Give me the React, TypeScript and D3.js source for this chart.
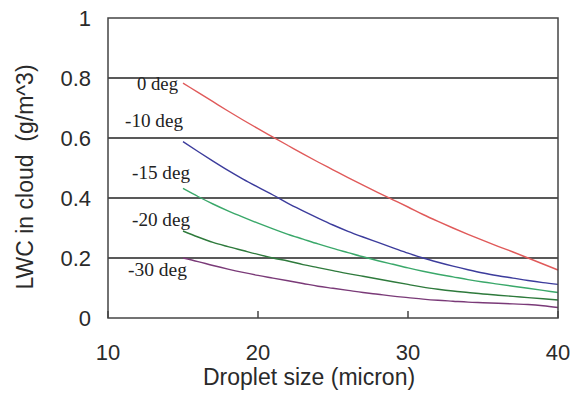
import React from "react";
import * as d3 from "d3";

// droplet size (micron)
const sizes = [15, 16, 17, 18, 19, 20, 21, 22, 23, 24, 25, 26, 27, 28, 29, 30, 31, 32, 33, 34, 35, 36, 37, 38, 39, 40];

// LWC (g/m^3) per temperature
const lwc0 = [0.783, 0.752, 0.721, 0.69, 0.66, 0.631, 0.603, 0.575, 0.547, 0.52, 0.494, 0.468, 0.443, 0.418, 0.394, 0.37, 0.345, 0.322, 0.3, 0.279, 0.259, 0.239, 0.22, 0.2, 0.18, 0.16];
const lwc10 = [0.588, 0.555, 0.523, 0.492, 0.463, 0.436, 0.41, 0.382, 0.357, 0.333, 0.31, 0.289, 0.27, 0.252, 0.234, 0.216, 0.2, 0.186, 0.173, 0.161, 0.15, 0.141, 0.133, 0.125, 0.118, 0.112];
const lwc15 = [0.432, 0.405, 0.38, 0.357, 0.336, 0.316, 0.297, 0.279, 0.263, 0.247, 0.232, 0.218, 0.204, 0.191, 0.179, 0.167, 0.156, 0.146, 0.137, 0.128, 0.12, 0.113, 0.106, 0.099, 0.092, 0.085];
const lwc20 = [0.29, 0.27, 0.252, 0.238, 0.225, 0.212, 0.2, 0.19, 0.178, 0.168, 0.158, 0.148, 0.139, 0.13, 0.121, 0.112, 0.103, 0.096, 0.09, 0.085, 0.08, 0.076, 0.072, 0.068, 0.064, 0.06];
const lwc30 = [0.2, 0.188, 0.175, 0.163, 0.152, 0.142, 0.133, 0.124, 0.115, 0.106, 0.099, 0.092, 0.085, 0.079, 0.073, 0.068, 0.063, 0.059, 0.056, 0.053, 0.051, 0.049, 0.047, 0.045, 0.041, 0.035];

const seriesNames = ["0 deg", "-10 deg", "-15 deg", "-20 deg", "-30 deg"];
const seriesValues = [lwc0, lwc10, lwc15, lwc20, lwc30];

const xTicks = [10, 20, 30, 40];
const yTicks = [0, 0.2, 0.4, 0.6, 0.8, 1];

const colors = ["#e05a5a", "#3c3c9c", "#3aa86a", "#2e7a3c", "#7a3a78"];
// where each curve label sits (px): x, baseline, width
const labelPos = [
  [137, 90, 41],
  [125, 126.5, 58],
  [132, 179, 58],
  [132, 226, 58],
  [128, 276, 59],
];

const W = 571;
const H = 396;
const plot = { left: 108, right: 558, top: 18, bottom: 318 };

const App: React.FC = () => {
  const x = d3.scaleLinear().domain([10, 40]).range([plot.left, plot.right]);
  const y = d3.scaleLinear().domain([0, 1]).range([plot.bottom, plot.top]);

  const line = d3
    .line<[number, number]>()
    .x((d) => x(d[0]))
    .y((d) => y(d[1]))
    .curve(d3.curveMonotoneX);

  const sans = "'Liberation Sans', Arial, sans-serif";
  const serif = "'Liberation Serif', 'Times New Roman', serif";

  return (
    <svg
      width={W}
      height={H}
      style={{ position: "absolute", left: 0, top: 0, background: "#fff" }}
    >
      <rect x={0} y={0} width={W} height={H} fill="#fff" />

      {/* gridlines */}
      {yTicks
        .filter((t) => t > 0 && t < 1)
        .map((t) => (
          <line
            key={t}
            x1={plot.left}
            x2={plot.right}
            y1={y(t)}
            y2={y(t)}
            stroke="#222"
            strokeWidth={1.5}
          />
        ))}

      {/* curves */}
      {seriesValues.map((vals, i) => (
        <path
          key={i}
          d={line(sizes.map((s, j) => [s, vals[j]] as [number, number])) || ""}
          fill="none"
          stroke={colors[i]}
          strokeWidth={1.4}
        />
      ))}

      {/* frame */}
      <rect
        x={plot.left}
        y={plot.top}
        width={plot.right - plot.left}
        height={plot.bottom - plot.top}
        fill="none"
        stroke="#444"
        strokeWidth={1.5}
      />

      {/* x ticks */}
      {xTicks.map((t) => (
        <g key={t}>
          <line
            x1={x(t)}
            x2={x(t)}
            y1={plot.bottom}
            y2={plot.bottom - 7}
            stroke="#444"
            strokeWidth={1.5}
          />
          <text
            x={x(t)}
            y={360}
            textAnchor="middle"
            fontFamily={sans}
            fontSize={22}
            fill="#2a2a2a"
          >
            {t}
          </text>
        </g>
      ))}

      {/* y tick labels */}
      {yTicks.map((t) => (
        <text
          key={t}
          x={91}
          y={y(t) + 8}
          textAnchor="end"
          fontFamily={sans}
          fontSize={22}
          fill="#2a2a2a"
        >
          {t}
        </text>
      ))}

      {/* curve labels */}
      {seriesNames.map((n, i) => (
        <text
          key={n}
          x={labelPos[i][0]}
          y={labelPos[i][1]}
          textLength={labelPos[i][2]}
          lengthAdjust="spacingAndGlyphs"
          fontFamily={serif}
          fontSize={18}
          fill="#222"
        >
          {n}
        </text>
      ))}

      {/* axis titles */}
      <text
        x={309}
        y={385}
        textAnchor="middle"
        fontFamily={sans}
        fontSize={23}
        fill="#2a2a2a"
      >
        Droplet size (micron)
      </text>
      <text
        transform="translate(33,177) rotate(-90)"
        textAnchor="middle"
        fontFamily={sans}
        fontSize={23}
        fill="#2a2a2a"
        style={{ whiteSpace: "pre" }}
      >
        {"LWC in cloud  (g/m^3)"}
      </text>
    </svg>
  );
};

export default App;
